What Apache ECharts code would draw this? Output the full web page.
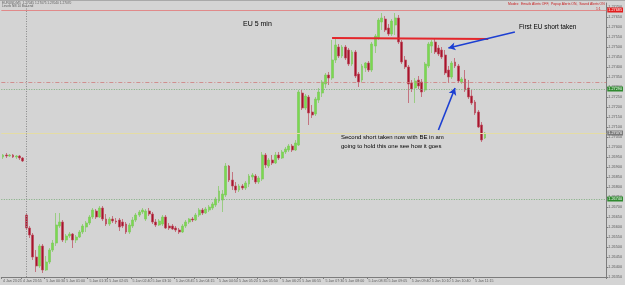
<!DOCTYPE html>
<html>
<head>
<meta charset="utf-8">
<script src="https://cdn.jsdelivr.net/npm/echarts@6/dist/echarts.min.js"></script>
<style>
  html, body { margin: 0; padding: 0; background: #d4d4d4; }
  #main { width: 625px; height: 285px; }
</style>
</head>
<body>
<div id="main"></div>
<script>
// EURUSD M5 bars
const opens = [
  1.26950,1.26960,1.26955,1.26960,1.26950,1.26955,1.26945,1.26660,1.26595,1.26560,
  1.26450,1.26405,1.26505,1.26385,1.26425,1.26485,1.26520,1.26605,1.26625,1.26535,
  1.26555,1.26565,1.26535,1.26550,1.26575,1.26600,1.26620,1.26650,1.26680,1.26650,
  1.26695,1.26640,1.26615,1.26640,1.26630,1.26635,1.26625,1.26615,1.26575,1.26605,
  1.26635,1.26660,1.26675,1.26640,1.26680,1.26665,1.26625,1.26610,1.26615,1.26650,
  1.26605,1.26605,1.26595,1.26585,1.26575,1.26605,1.26625,1.26640,1.26635,1.26660,
  1.26685,1.26670,1.26685,1.26695,1.26710,1.26730,1.26735,1.26760,1.26905,1.26835,
  1.26805,1.26785,1.26805,1.26795,1.26815,1.26850,1.26855,1.26825,1.26840,1.26960,
  1.26905,1.26935,1.26920,1.26960,1.26945,1.26975,1.26985,1.27005,1.26985,1.27010,
  1.27270,1.27195,1.27250,1.27175,1.27165,1.27235,1.27270,1.27315,1.27360,1.27345,
  1.27435,1.27500,1.27455,1.27500,1.27485,1.27415,1.27475,1.27365,1.27335,1.27395,
  1.27420,1.27385,1.27505,1.27545,1.27625,1.27640,1.27595,1.27565,1.27610,1.27645,
  1.27525,1.27435,1.27400,1.27320,1.27295,1.27335,1.27325,1.27285,1.27405,1.27505,
  1.27525,1.27495,1.27485,1.27460,1.27385,1.27350,1.27425,1.27405,1.27325,1.27340,
  1.27295,1.27255,1.27225,1.27175,1.27110,1.27045
];
const closes = [
  1.26960,1.26955,1.26960,1.26950,1.26955,1.26945,1.26930,1.26595,1.26560,1.26450,
  1.26405,1.26505,1.26385,1.26425,1.26485,1.26520,1.26610,1.26625,1.26535,1.26555,
  1.26565,1.26535,1.26550,1.26575,1.26605,1.26620,1.26650,1.26685,1.26650,1.26695,
  1.26640,1.26615,1.26640,1.26630,1.26625,1.26600,1.26605,1.26575,1.26610,1.26635,
  1.26660,1.26675,1.26685,1.26680,1.26665,1.26625,1.26610,1.26630,1.26650,1.26595,
  1.26595,1.26590,1.26585,1.26575,1.26605,1.26625,1.26640,1.26635,1.26660,1.26685,
  1.26670,1.26690,1.26700,1.26715,1.26740,1.26780,1.26765,1.26905,1.26835,1.26805,
  1.26785,1.26805,1.26795,1.26820,1.26855,1.26860,1.26825,1.26845,1.26960,1.26910,
  1.26935,1.26920,1.26960,1.26945,1.26975,1.26990,1.27005,1.26985,1.27020,1.27275,
  1.27195,1.27255,1.27170,1.27160,1.27240,1.27275,1.27325,1.27360,1.27345,1.27435,
  1.27510,1.27455,1.27500,1.27445,1.27415,1.27475,1.27355,1.27325,1.27405,1.27420,
  1.27385,1.27515,1.27555,1.27635,1.27645,1.27585,1.27565,1.27630,1.27645,1.27525,
  1.27425,1.27400,1.27315,1.27290,1.27330,1.27305,1.27275,1.27415,1.27515,1.27525,
  1.27475,1.27465,1.27450,1.27370,1.27350,1.27420,1.27405,1.27330,1.27340,1.27285,
  1.27250,1.27220,1.27170,1.27100,1.27035,1.27070
];
const lows = [
  1.26940,1.26945,1.26950,1.26945,1.26940,1.26935,1.26925,1.26585,1.26545,1.26435,
  1.26375,1.26395,1.26370,1.26380,1.26415,1.26475,1.26505,1.26595,1.26525,1.26520,
  1.26545,1.26495,1.26520,1.26545,1.26565,1.26575,1.26610,1.26640,1.26640,1.26645,
  1.26630,1.26605,1.26605,1.26620,1.26615,1.26580,1.26595,1.26565,1.26565,1.26595,
  1.26625,1.26650,1.26665,1.26630,1.26655,1.26615,1.26600,1.26605,1.26605,1.26590,
  1.26585,1.26585,1.26575,1.26565,1.26570,1.26595,1.26615,1.26625,1.26630,1.26650,
  1.26660,1.26665,1.26675,1.26685,1.26700,1.26720,1.26675,1.26750,1.26825,1.26785,
  1.26770,1.26775,1.26785,1.26785,1.26800,1.26835,1.26815,1.26815,1.26830,1.26895,
  1.26895,1.26910,1.26915,1.26935,1.26940,1.26965,1.26975,1.26975,1.26980,1.27005,
  1.27185,1.27185,1.27110,1.27145,1.27155,1.27220,1.27250,1.27295,1.27310,1.27335,
  1.27420,1.27445,1.27445,1.27435,1.27405,1.27405,1.27345,1.27300,1.27325,1.27375,
  1.27375,1.27375,1.27470,1.27535,1.27585,1.27575,1.27555,1.27555,1.27560,1.27515,
  1.27415,1.27390,1.27220,1.27275,1.27220,1.27290,1.27250,1.27275,1.27395,1.27470,
  1.27465,1.27455,1.27440,1.27360,1.27320,1.27340,1.27395,1.27320,1.27315,1.27275,
  1.27240,1.27210,1.27160,1.27095,1.27025,1.27040
];
const highs = [
  1.26965,1.26970,1.26965,1.26965,1.26960,1.26960,1.26950,1.26670,1.26605,1.26570,
  1.26485,1.26515,1.26515,1.26455,1.26495,1.26535,1.26670,1.26670,1.26635,1.26565,
  1.26575,1.26570,1.26560,1.26585,1.26615,1.26630,1.26660,1.26695,1.26690,1.26705,
  1.26705,1.26665,1.26650,1.26655,1.26645,1.26645,1.26640,1.26625,1.26620,1.26650,
  1.26670,1.26685,1.26695,1.26690,1.26695,1.26675,1.26640,1.26640,1.26660,1.26660,
  1.26620,1.26615,1.26605,1.26595,1.26615,1.26635,1.26645,1.26650,1.26670,1.26695,
  1.26695,1.26700,1.26710,1.26725,1.26750,1.26805,1.26785,1.26920,1.26910,1.26875,
  1.26825,1.26815,1.26815,1.26830,1.26865,1.26870,1.26865,1.26855,1.26975,1.26970,
  1.26945,1.26960,1.26975,1.26975,1.26985,1.27000,1.27015,1.27015,1.27035,1.27285,
  1.27285,1.27265,1.27260,1.27210,1.27250,1.27295,1.27335,1.27370,1.27375,1.27535,
  1.27545,1.27515,1.27510,1.27510,1.27495,1.27485,1.27485,1.27375,1.27415,1.27425,
  1.27430,1.27525,1.27565,1.27645,1.27670,1.27655,1.27615,1.27640,1.27670,1.27660,
  1.27535,1.27455,1.27410,1.27335,1.27345,1.27355,1.27340,1.27425,1.27525,1.27535,
  1.27540,1.27510,1.27500,1.27485,1.27405,1.27430,1.27445,1.27415,1.27350,1.27385,
  1.27335,1.27285,1.27235,1.27185,1.27125,1.27075
];

// horizontal price lines drawn on the chart
const levelPrices = [1.27685, 1.27325, 1.27290, 1.27070, 1.26740];
// trend line + arrows: [barIndex, price]
const resistance = [[99, 1.27545], [146, 1.27540]];
const arrow1 = [[154, 1.27575], [134, 1.27495]];
const arrow2 = [[131, 1.27085], [136, 1.27295]];

const totalSlots = 182;      // bars + empty space on the right (chart shift)
const firstBarMin = 23 * 60 + 25; // 4 Jan 23:25
const separatorBar = 7;
const labelStep = 6.45;

const categories = [];
for (let i = 0; i < totalSlots; i++) {
  const t = firstBarMin + i * 5;
  const day = 4 + Math.floor(t / 1440);
  const m = t % 1440;
  const hh = String(Math.floor(m / 60)).padStart(2, '0');
  const mm = String(m % 60).padStart(2, '0');
  categories.push(day + ' Jan ' + hh + ':' + mm);
}
const labelBars = {};
for (let k = 0; k * labelStep < opens.length; k++) labelBars[Math.round(k * labelStep)] = true;
const showLabel = (idx) => !!labelBars[idx];

const candles = opens.map((o, i) => [o, closes[i], lows[i], highs[i]]);

const green = '#7ad94f', red = '#a8132c';
const font = 'Liberation Sans, Arial, sans-serif';

const priceTag = (bg, fg) => ({
  show: true, position: 'end', distance: 1,
  formatter: (p) => Number(p.value).toFixed(5),
  backgroundColor: bg, color: fg, fontSize: 3.8, padding: [0.5, 1],
  fontFamily: font
});

const chart = echarts.init(document.getElementById('main'));
chart.setOption({
  animation: false,
  backgroundColor: '#d4d4d4',
  grid: { left: 0, right: 14, top: 3, bottom: 8 },
  xAxis: {
    type: 'category',
    data: categories,
    boundaryGap: true,
    axisLine: { lineStyle: { color: '#7c7c7c', width: 1 } },
    axisTick: { show: true, length: 2, interval: showLabel, lineStyle: { color: '#7c7c7c' } },
    axisLabel: {
      interval: showLabel, fontSize: 3.6, color: '#5c5c5c', margin: 2,
      align: 'left', fontFamily: font
    },
    splitLine: { show: false }
  },
  yAxis: {
    type: 'value',
    position: 'right',
    min: 1.2635, max: 1.2772, interval: 0.0005,
    axisLine: { show: true, lineStyle: { color: '#7c7c7c' } },
    axisTick: { show: true, length: 2, lineStyle: { color: '#7c7c7c' } },
    axisLabel: {
      fontSize: 3.8, color: '#5c5c5c', margin: 2, fontFamily: font,
      showMaxLabel: false, formatter: (v) => v.toFixed(5)
    },
    splitLine: { show: false }
  },
  series: [{
    type: 'candlestick',
    data: candles,
    barWidth: 2.4,
    itemStyle: {
      color: green, color0: red,
      borderColor: '#7fc85e', borderColor0: '#bb4a5c', borderWidth: 0.7
    },
    markLine: {
      silent: true,
      precision: 5,
      symbol: ['none', 'none'],
      animation: false,
      label: { show: false },
      data: [
        { yAxis: levelPrices[0], lineStyle: { color: '#e08a8a', type: 'solid', width: 1.2 }, label: priceTag('#e21c1c', '#fff') },
        { yAxis: levelPrices[1], lineStyle: { color: '#cf7c7c', type: [4, 2, 1, 2], width: 0.8 } },
        { yAxis: levelPrices[2], lineStyle: { color: '#7fae7f', type: [1, 1.5], width: 1 }, label: priceTag('#2f8a2f', '#fff') },
        { yAxis: levelPrices[3], lineStyle: { color: '#e4dca4', type: 'solid', width: 1 }, label: priceTag('#7a7a7a', '#fff') },
        { yAxis: levelPrices[4], lineStyle: { color: '#7fae7f', type: [1, 1.5], width: 1 }, label: priceTag('#2f8a2f', '#fff') },
        { xAxis: categories[separatorBar], lineStyle: { color: '#8a8a8a', type: [1, 1.5], width: 1 } },
        [
          { coord: [categories[resistance[0][0]], resistance[0][1]], lineStyle: { color: '#e4262b', width: 2, type: 'solid' } },
          { coord: [categories[resistance[1][0]], resistance[1][1]] }
        ],
        [
          { coord: [categories[arrow1[0][0]], arrow1[0][1]], symbol: 'none', lineStyle: { color: '#1c3fd2', width: 1.6, type: 'solid' } },
          { coord: [categories[arrow1[1][0]], arrow1[1][1]], symbol: 'arrow', symbolSize: [6, 7] }
        ],
        [
          { coord: [categories[arrow2[0][0]], arrow2[0][1]], symbol: 'none', lineStyle: { color: '#1c3fd2', width: 1.6, type: 'solid' } },
          { coord: [categories[arrow2[1][0]], arrow2[1][1]], symbol: 'arrow', symbolSize: [6, 7] }
        ]
      ]
    }
  }],
  graphic: [
    { type: 'rect', left: 0, top: 0, shape: { width: 625, height: 1 }, style: { fill: '#a9a9a9' } },
    { type: 'text', left: 2, top: 1.5, style: { text: 'EURUSD,M5  1.27045 1.27075 1.27040 1.27070', fontSize: 3.2, fill: '#5c5c5c', fontFamily: font } },
    { type: 'text', left: 2, top: 5, style: { text: 'Levels NB 10 Bar-end', fontSize: 3.2, fill: '#5c5c5c', fontFamily: font } },
    { type: 'text', left: 508, top: 3, style: { text: 'Modes:  Emails Alerts OFF,  Popup Alerts ON,  Sound Alerts ON', fontSize: 3.4, fill: '#c82020', fontFamily: font } },
    { type: 'text', left: 596, top: 8, style: { text: '1:1', fontSize: 3.4, fill: '#c82020', fontFamily: font } },
    { type: 'text', left: 243, top: 21, style: { text: 'EU 5 min', fontSize: 7, fill: '#000', fontFamily: font } },
    { type: 'text', left: 519, top: 23.5, style: { text: 'First EU short taken', fontSize: 6.5, fill: '#000', fontFamily: font } },
    { type: 'text', left: 341, top: 134, style: { text: 'Second short taken now with BE in am', fontSize: 6, fill: '#000', fontFamily: font } },
    { type: 'text', left: 341, top: 143, style: { text: 'going to hold this one see how it goes', fontSize: 6, fill: '#000', fontFamily: font } }
  ]
});
</script>
</body>
</html>
